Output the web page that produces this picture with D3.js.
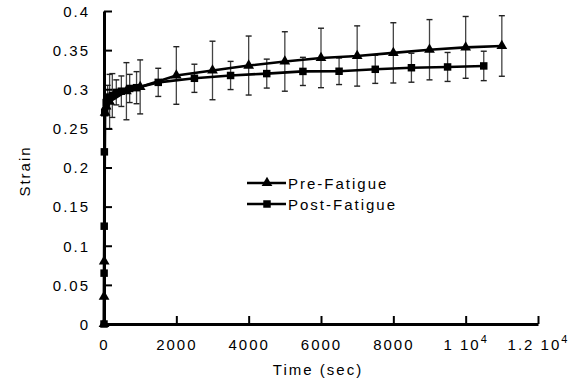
<!DOCTYPE html>
<html>
<head>
<meta charset="utf-8">
<script src="https://cdn.jsdelivr.net/npm/d3@7/dist/d3.min.js"></script>
<style>
  body { margin: 0; background: #fff; }
  svg { font-family: "Liberation Sans", Arial, sans-serif; }
  .axis text { font-size: 15px; letter-spacing: 2px; fill: #000; }
  .axis path, .axis line { stroke: #000; }
</style>
</head>
<body>
<svg id="chart" width="578" height="381"></svg>
<script>
// Pre-Fatigue (triangles)
const preTime = [0, 2, 5, 30, 60, 155, 620, 1000, 2000, 3000, 4000, 5000, 6000, 7000, 8000, 9000, 10000, 11000];
const preStrain = [0, 0.035, 0.08, 0.27, 0.278, 0.284, 0.2975, 0.303, 0.3176, 0.324, 0.3303, 0.3355, 0.34, 0.3425, 0.3465, 0.3505, 0.3535, 0.3553];
const preErr = [0, 0, 0, 0, 0, 0.035, 0.0365, 0.0345, 0.0368, 0.0374, 0.0377, 0.038, 0.038, 0.0385, 0.0385, 0.0385, 0.0395, 0.0387];

// Post-Fatigue (squares)
const postTime = [0, 3, 6, 10, 20, 60, 100, 230, 340, 480, 710, 900, 1500, 2500, 3500, 4500, 5500, 6500, 7500, 8500, 9500, 10500];
const postStrain = [0, 0.065, 0.125, 0.22, 0.27, 0.283, 0.29, 0.292, 0.296, 0.2975, 0.301, 0.302, 0.3088, 0.314, 0.3176, 0.32, 0.3228, 0.323, 0.3255, 0.3275, 0.3285, 0.3298];
const postErr = [0, 0, 0, 0, 0, 0, 0.015, 0.028, 0.016, 0.0195, 0.018, 0.0205, 0.018, 0.018, 0.018, 0.0185, 0.018, 0.017, 0.018, 0.0185, 0.0185, 0.0188];

const xTicks = [0, 2000, 4000, 6000, 8000, 10000, 12000];
const xTickBase = ["0", "2000", "4000", "6000", "8000", "1 10", "1.2 10"];
const xTickSup = ["", "", "", "", "", "4", "4"];
const yTicks = [0, 0.05, 0.1, 0.15, 0.2, 0.25, 0.3, 0.35, 0.4];
const yTickLabels = ["0", "0.05", "0.1", "0.15", "0.2", "0.25", "0.3", "0.35", "0.4"];

const seriesNames = ["Pre-Fatigue", "Post-Fatigue"];

const svg = d3.select("#chart");
const plotLeft = 104, plotRight = 538, plotTop = 11, plotBottom = 324;

const x = d3.scaleLinear().domain([0, 12000]).range([plotLeft, plotRight]);
const y = d3.scaleLinear().domain([0, 0.4]).range([plotBottom, plotTop]);

const series = [
  { name: seriesNames[0], t: preTime, s: preStrain, e: preErr, shape: d3.symbolTriangle, size: 50 },
  { name: seriesNames[1], t: postTime, s: postStrain, e: postErr, shape: d3.symbolSquare, size: 56 }
];

// error bars
series.forEach(ser => {
  const pts = ser.t.map((t, i) => ({ t: t, s: ser.s[i], e: ser.e[i] })).filter(d => d.e > 0);
  const g = svg.append("g").attr("class", "err");
  g.selectAll("line.v").data(pts).join("line")
    .attr("x1", d => x(d.t)).attr("x2", d => x(d.t))
    .attr("y1", d => y(d.s - d.e)).attr("y2", d => y(d.s + d.e))
    .attr("stroke", "#444").attr("stroke-width", 1.3);
  [-1, 1].forEach(sign => {
    g.selectAll("line.c" + (sign > 0 ? "t" : "b")).data(pts).join("line")
      .attr("class", "c" + (sign > 0 ? "t" : "b"))
      .attr("x1", d => x(d.t) - 3).attr("x2", d => x(d.t) + 3)
      .attr("y1", d => y(d.s + sign * d.e)).attr("y2", d => y(d.s + sign * d.e))
      .attr("stroke", "#222").attr("stroke-width", 1.4);
  });
});

// lines and markers
const line = d3.line().x(d => x(d[0])).y(d => y(d[1]));
series.forEach(ser => {
  const pts = ser.t.map((t, i) => [t, ser.s[i]]);
  svg.append("path").datum(pts)
    .attr("d", line)
    .attr("fill", "none").attr("stroke", "#000").attr("stroke-width", 2.6);
  svg.append("g").selectAll("path").data(pts).join("path")
    .attr("d", d3.symbol().type(ser.shape).size(ser.size))
    .attr("transform", d => `translate(${x(d[0])},${y(d[1])})`)
    .attr("fill", "#000");
});

// axes
const xAxis = svg.append("g").attr("class", "axis")
  .attr("transform", `translate(0,${plotBottom})`)
  .call(d3.axisBottom(x).tickValues(xTicks).tickSizeInner(-8).tickSizeOuter(0).tickFormat(""));
xAxis.select(".domain").attr("stroke-width", 3);
xAxis.selectAll(".tick line").attr("stroke-width", 2);
xAxis.selectAll(".tick text").each(function(d, i) {
  const t = d3.select(this).attr("text-anchor", "middle").attr("dy", null).attr("y", 26);
  t.append("tspan").text(xTickBase[i]);
  if (xTickSup[i]) {
    t.append("tspan").attr("dy", -7).attr("font-size", 11).text(xTickSup[i]);
  }
});

const yAxis = svg.append("g").attr("class", "axis")
  .attr("transform", `translate(${plotLeft},0)`)
  .call(d3.axisLeft(y).tickValues(yTicks).tickSizeInner(-8).tickSizeOuter(0).tickPadding(14)
    .tickFormat((d, i) => yTickLabels[i]));
yAxis.select(".domain").attr("stroke-width", 3);
yAxis.selectAll(".tick line").attr("stroke-width", 2);
yAxis.selectAll(".tick text").attr("dy", "0.35em");

// axis titles
svg.append("text")
  .attr("x", 318).attr("y", 375)
  .attr("text-anchor", "middle")
  .style("font-size", "15px").style("letter-spacing", "2px")
  .text("Time (sec)");
svg.append("text")
  .attr("transform", "translate(30,171) rotate(-90)")
  .attr("text-anchor", "middle")
  .style("font-size", "15px").style("letter-spacing", "2px")
  .text("Strain");

// legend
const legY = [183, 204];
series.forEach((ser, i) => {
  const g = svg.append("g").attr("transform", `translate(0,${legY[i]})`);
  g.append("line").attr("x1", 247).attr("x2", 286).attr("y1", 0).attr("y2", 0)
    .attr("stroke", "#000").attr("stroke-width", 2.6);
  g.append("path").attr("d", d3.symbol().type(ser.shape).size(ser.size))
    .attr("transform", "translate(267,0)").attr("fill", "#000");
  g.append("text").attr("x", 288).attr("y", 5.5)
    .style("font-size", "15px").style("letter-spacing", "2px")
    .text(ser.name);
});
</script>
</body>
</html>
